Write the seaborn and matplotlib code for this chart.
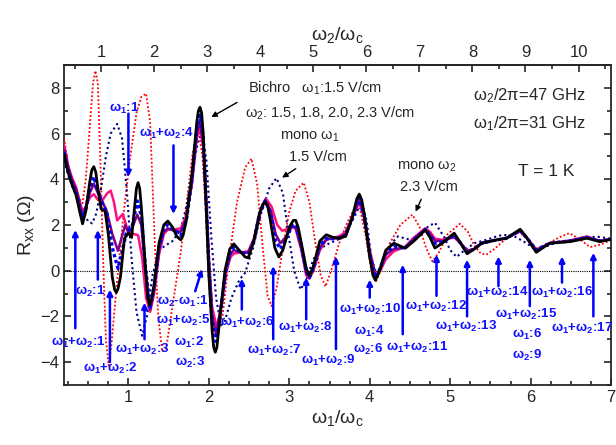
import numpy as np
import pandas as pd
import matplotlib
matplotlib.use("Agg")
import matplotlib.pyplot as plt
import seaborn as sns
from matplotlib.ticker import MultipleLocator, FixedLocator

# ── Data ────────────────────────────────────────────────────
ratio = 47.0 / 31.0   # omega2 / omega1

black_x = [0.20, 0.25, 0.30, 0.35, 0.40, 0.43, 0.47, 0.52, 0.545, 0.57, 0.595, 0.62, 0.66, 0.71, 0.75, 0.80,
           0.83, 0.85, 0.87, 0.90, 0.95, 1.00, 1.04, 1.08, 1.10, 1.12, 1.14, 1.16, 1.21, 1.24, 1.265, 1.29,
           1.32, 1.38, 1.44, 1.49, 1.55, 1.60, 1.65, 1.68, 1.72, 1.79, 1.85, 1.87, 1.89, 1.91, 1.93, 1.97,
           2.00, 2.04, 2.06, 2.08, 2.10, 2.13, 2.20, 2.26, 2.31, 2.40, 2.45, 2.49, 2.56, 2.63, 2.67, 2.70,
           2.73, 2.76, 2.82, 2.87, 2.92, 3.00, 3.05, 3.08, 3.11, 3.15, 3.21, 3.25, 3.30, 3.38, 3.46, 3.55,
           3.62, 3.70, 3.78, 3.84, 3.87, 3.90, 3.93, 4.00, 4.04, 4.07, 4.10, 4.13, 4.20, 4.30, 4.44, 4.55,
           4.69, 4.75, 4.81, 4.90, 5.05, 5.13, 5.21, 5.30, 5.39, 5.54, 5.70, 5.87, 5.95, 6.07, 6.15, 6.24,
           6.49, 6.70, 6.86, 7.00]
black_y = [5.1, 4.3, 3.75, 3.3, 2.5, 2.05, 2.6, 3.9, 4.4, 4.55, 4.3, 3.6, 2.7, 2.6, 1.6, -0.3,
           -0.85, -0.95, -0.8, -0.3, 1.4, 1.65, 1.45, 2.9, 3.6, 3.85, 3.6, 2.8, 0.2, -1.2, -1.5, -1.2,
           -0.6, 1.2, 2.0, 2.17, 1.9, 1.5, 1.35, 1.55, 2.2, 4.2, 6.5, 7.0, 7.15, 6.9, 6.0, 2.5,
           -0.2, -2.6, -3.35, -3.57, -3.35, -2.3, 0.0, 0.95, 1.17, 0.8, 0.6, 0.56, 1.3, 2.5, 2.9, 3.0,
           2.85, 2.3, 1.0, 0.6, 0.9, 1.9, 2.2, 2.2, 1.9, 1.2, 0.1, -0.22, 0.2, 1.3, 1.57, 1.45,
           1.42, 1.5, 2.3, 3.15, 3.35, 3.1, 2.5, 0.6, -0.2, -0.42, -0.2, 0.1, 0.9, 1.2, 0.98, 1.3,
           1.78, 1.45, 0.99, 1.2, 1.64, 1.2, 0.74, 0.95, 1.2, 1.32, 1.42, 1.81, 1.45, 0.8, 1.0, 1.2,
           1.27, 1.42, 1.27, 1.37]

blue_x = [0.20, 0.25, 0.30, 0.35, 0.40, 0.43, 0.47, 0.52, 0.57, 0.62, 0.68, 0.73, 0.80, 0.87, 0.92, 0.97,
          1.01, 1.05, 1.11, 1.16, 1.21, 1.27, 1.32, 1.38, 1.44, 1.49, 1.56, 1.65, 1.72, 1.79, 1.85, 1.89,
          1.93, 1.97, 2.00, 2.04, 2.09, 2.14, 2.21, 2.27, 2.31, 2.40, 2.49, 2.56, 2.63, 2.70, 2.77, 2.83,
          2.89, 2.95, 3.03, 3.08, 3.15, 3.21, 3.25, 3.30, 3.38, 3.46, 3.55, 3.62, 3.70, 3.78, 3.87, 3.93,
          4.00, 4.07, 4.13, 4.20, 4.30, 4.44, 4.55, 4.69, 4.75, 4.81, 4.90, 5.05, 5.13, 5.21, 5.30, 5.39,
          5.54, 5.70, 5.87, 5.95, 6.07, 6.15, 6.24, 6.49, 6.70, 6.86, 7.00]
blue_y = [5.2, 4.4, 3.85, 3.45, 2.7, 2.3, 2.7, 3.6, 4.1, 3.5, 2.9, 2.6, 1.0, 0.1, 0.8, 1.6,
          1.8, 2.0, 3.05, 2.4, 0.2, -1.6, -0.7, 1.0, 1.85, 2.0, 1.8, 1.55, 2.2, 4.0, 6.2, 6.8,
          5.8, 2.7, 0.2, -2.2, -3.1, -2.0, 0.0, 0.85, 1.0, 0.8, 0.7, 1.3, 2.5, 3.05, 2.5, 1.3,
          0.95, 1.3, 1.95, 2.0, 1.1, 0.0, -0.3, 0.1, 1.1, 1.4, 1.4, 1.42, 1.55, 2.3, 3.2, 2.4,
          0.7, -0.3, 0.1, 0.8, 1.05, 1.0, 1.35, 1.8, 1.55, 1.2, 1.25, 1.55, 1.2, 0.8, 0.95, 1.2,
          1.32, 1.42, 1.75, 1.45, 0.9, 1.05, 1.2, 1.3, 1.45, 1.3, 1.37]

purple_x = [0.20, 0.25, 0.30, 0.35, 0.40, 0.43, 0.47, 0.52, 0.57, 0.62, 0.68, 0.73, 0.80, 0.87, 0.92, 0.96,
            1.00, 1.05, 1.11, 1.16, 1.21, 1.27, 1.32, 1.38, 1.44, 1.49, 1.56, 1.65, 1.72, 1.79, 1.85, 1.89,
            1.93, 1.97, 2.00, 2.04, 2.09, 2.14, 2.21, 2.27, 2.31, 2.40, 2.49, 2.56, 2.63, 2.70, 2.77, 2.83,
            2.89, 2.95, 3.03, 3.08, 3.15, 3.21, 3.25, 3.30, 3.38, 3.46, 3.55, 3.62, 3.70, 3.78, 3.87, 3.93,
            4.00, 4.07, 4.13, 4.20, 4.30, 4.44, 4.55, 4.69, 4.75, 4.81, 4.90, 5.05, 5.13, 5.21, 5.30, 5.39,
            5.54, 5.70, 5.87, 5.95, 6.07, 6.15, 6.24, 6.49, 6.70, 6.86, 7.00]
purple_y = [5.3, 4.5, 3.95, 3.55, 2.8, 2.4, 2.75, 3.4, 3.8, 3.4, 3.0, 2.6, 1.6, 0.87, 1.5, 2.0,
            1.65, 1.9, 2.45, 2.0, 0.1, -1.7, -0.8, 0.9, 1.7, 1.85, 1.75, 1.7, 2.3, 3.9, 6.0, 6.5,
            5.6, 2.8, 0.4, -1.9, -2.8, -1.8, 0.0, 0.75, 0.9, 0.8, 0.78, 1.35, 2.5, 3.1, 2.6, 1.6,
            1.2, 1.45, 1.9, 1.9, 1.0, -0.1, -0.3, 0.1, 1.0, 1.38, 1.4, 1.45, 1.6, 2.3, 3.1, 2.4,
            0.8, -0.25, 0.05, 0.7, 0.95, 1.0, 1.4, 1.82, 1.6, 1.3, 1.3, 1.5, 1.2, 0.85, 0.95, 1.2,
            1.32, 1.42, 1.75, 1.45, 0.9, 1.05, 1.2, 1.3, 1.47, 1.3, 1.37]

pink_x = [0.20, 0.25, 0.30, 0.35, 0.40, 0.43, 0.47, 0.52, 0.57, 0.62, 0.68, 0.74, 0.78, 0.82, 0.86, 0.93,
          0.98, 1.02, 1.07, 1.12, 1.17, 1.22, 1.27, 1.32, 1.38, 1.44, 1.49, 1.56, 1.65, 1.72, 1.79, 1.85,
          1.89, 1.93, 1.97, 2.00, 2.04, 2.10, 2.15, 2.22, 2.27, 2.31, 2.40, 2.49, 2.56, 2.63, 2.71, 2.78,
          2.85, 2.91, 2.97, 3.04, 3.08, 3.15, 3.21, 3.25, 3.30, 3.38, 3.46, 3.55, 3.62, 3.70, 3.78, 3.87,
          3.93, 4.00, 4.07, 4.13, 4.20, 4.30, 4.44, 4.55, 4.69, 4.75, 4.81, 4.90, 5.05, 5.13, 5.21, 5.30,
          5.39, 5.54, 5.70, 5.87, 5.95, 6.07, 6.15, 6.24, 6.49, 6.70, 6.86, 7.00]
pink_y = [5.5, 4.6, 4.05, 3.65, 2.95, 2.6, 2.8, 3.2, 3.35, 3.1, 3.1, 3.4, 3.5, 3.0, 2.2, 2.48,
          1.9, 1.65, 1.6, 1.55, 0.6, -1.2, -1.8, -1.0, 0.7, 1.6, 1.8, 1.8, 1.85, 2.4, 3.8, 5.8,
          6.2, 5.4, 2.9, 0.6, -1.6, -2.5, -1.6, 0.0, 0.6, 0.75, 0.8, 0.85, 1.4, 2.5, 3.15, 2.8,
          2.0, 1.75, 1.8, 2.0, 1.8, 0.9, -0.2, -0.35, 0.0, 0.9, 1.35, 1.45, 1.5, 1.7, 2.3, 3.0,
          2.3, 0.9, -0.2, 0.0, 0.5, 0.85, 1.05, 1.45, 1.85, 1.7, 1.4, 1.35, 1.45, 1.2, 0.88, 0.95,
          1.2, 1.32, 1.42, 1.72, 1.45, 0.92, 1.05, 1.2, 1.32, 1.5, 1.3, 1.37]

mono2_x = [0.20, 0.25, 0.30, 0.35, 0.40, 0.43, 0.47, 0.52, 0.56, 0.59, 0.62, 0.65, 0.69, 0.72, 0.755, 0.79,
           0.85, 0.94, 1.02, 1.10, 1.16, 1.22, 1.27, 1.33, 1.37, 1.42, 1.47, 1.55, 1.65, 1.72, 1.80, 1.87,
           1.92, 1.98, 2.04, 2.10, 2.17, 2.25, 2.35, 2.45, 2.53, 2.60, 2.67, 2.73, 2.78, 2.84, 2.92, 3.00,
           3.08, 3.18, 3.25, 3.32, 3.39, 3.45, 3.52, 3.62, 3.72, 3.82, 3.88, 3.95, 4.02, 4.08, 4.15, 4.25,
           4.38, 4.53, 4.62, 4.70, 4.78, 4.86, 4.97, 5.12, 5.22, 5.30, 5.38, 5.45, 5.55, 5.70, 5.85, 5.95,
           6.08, 6.20, 6.35, 6.48, 6.60, 6.74, 6.88, 7.00]
mono2_y = [5.8, 4.7, 4.0, 3.5, 3.1, 2.95, 4.0, 6.3, 8.2, 8.75, 8.2, 5.0, 0.0, -3.0, -4.15, -3.2,
           -0.8, 2.5, 4.9, 6.9, 7.6, 7.75, 6.5, 1.0, -2.0, -3.55, -3.4, -1.5, 0.8, 2.8, 5.2, 6.2,
           5.0, 1.5, -1.5, -2.7, -2.0, 0.5, 3.0, 4.5, 4.9, 3.8, 1.0, -1.1, -1.55, -0.8, 1.0, 2.6,
           3.5, 3.85, 3.0, 1.3, -0.2, -0.7, 0.0, 1.2, 2.1, 2.8, 2.7, 1.5, 0.0, -0.45, 0.1, 1.2,
           2.0, 2.45, 1.9, 1.0, 0.4, 0.8, 1.6, 2.05, 1.7, 1.1, 0.75, 0.7, 0.95, 1.42, 1.72, 1.4,
           0.94, 1.15, 1.45, 1.64, 1.4, 1.03, 1.15, 1.35]

mono1_x = [0.20, 0.25, 0.30, 0.35, 0.40, 0.45, 0.50, 0.55, 0.60, 0.66, 0.72, 0.78, 0.86, 0.92, 0.98, 1.04,
           1.10, 1.17, 1.23, 1.30, 1.38, 1.46, 1.55, 1.65, 1.72, 1.80, 1.87, 1.92, 1.97, 2.03, 2.09, 2.15,
           2.20, 2.28, 2.38, 2.45, 2.55, 2.65, 2.75, 2.84, 2.92, 2.98, 3.06, 3.14, 3.21, 3.30, 3.40, 3.50,
           3.60, 3.70, 3.80, 3.90, 3.96, 4.02, 4.09, 4.16, 4.25, 4.35, 4.45, 4.55, 4.67, 4.81, 4.92, 5.00,
           5.08, 5.18, 5.30, 5.45, 5.58, 5.66, 5.80, 5.95, 6.05, 6.12, 6.25, 6.45, 6.65, 6.82, 7.00]
mono1_y = [4.8, 4.2, 3.7, 3.3, 2.9, 2.5, 2.15, 2.07, 2.5, 3.6, 5.0, 6.0, 6.42, 5.8, 3.5, 0.5,
           -1.8, -2.85, -2.0, -0.2, 0.9, 1.1, 1.3, 1.8, 2.8, 4.5, 5.7, 6.0, 4.8, 1.5, -1.2, -2.4,
           -2.2, -1.2, -0.4, -0.1, 1.0, 2.5, 3.6, 4.05, 3.4, 1.8, 0.0, -0.83, -0.4, 0.5, 1.0, 1.2,
           1.35, 1.6, 2.3, 3.0, 2.2, 0.6, -0.25, 0.3, 1.1, 1.5, 1.4, 1.3, 1.8, 2.1, 1.5, 0.9,
           0.6, 0.9, 1.2, 1.35, 1.5, 1.57, 1.5, 1.2, 0.95, 0.94, 1.15, 1.3, 1.42, 1.49, 1.4]

# resonance arrows: x, tail y, head y
arrow_x = [0.34, 0.62, 0.77, 1.00, 1.20, 1.56, 2.41, 2.80, 3.21, 3.58, 4.00, 4.41, 4.83, 5.21, 5.60, 5.99, 6.39, 6.78]
arrow_y0 = [-2.52, -0.39, -4.0, 6.87, -3.0, 5.48, -1.7, -3.0, -2.13, -3.43, -1.18, -2.78, -1.1, -2.0, -0.68, -1.55, -0.52, -2.0]
arrow_y1 = [1.78, 1.78, -0.83, 4.1, -1.4, 2.48, -0.35, 0.2, -0.3, 0.62, -0.39, 0.26, 0.7, 0.48, 0.62, 0.48, 0.62, 0.78]

res_labels = ["ω1+ω2:1", "ω2:1", "ω1+ω2:2", "ω1:1", "ω1+ω2:3", "ω1+ω2:4",
              "ω2-ω1:1", "ω1+ω2:5", "ω1:2", "ω2:3", "ω1+ω2:6", "ω1+ω2:7",
              "ω1+ω2:8", "ω1+ω2:9", "ω1+ω2:10", "ω1:4", "ω2:6", "ω1+ω2:11",
              "ω1+ω2:12", "ω1+ω2:13", "ω1+ω2:14", "ω1+ω2:15", "ω1:6", "ω2:9",
              "ω1+ω2:16", "ω1+ω2:17"]
res_lx = [0.38, 0.53, 0.78, 0.95, 1.17, 1.48, 1.67, 1.68, 1.76, 1.77, 2.48, 2.82, 3.20, 3.48, 4.00, 3.99,
          3.98, 4.59, 4.83, 5.20, 5.58, 5.94, 5.96, 5.96, 6.39, 6.64]
res_ly = [-3.13, -0.9, -4.3, 7.1, -3.43, 6.0, -1.35, -2.2, -3.13, -4.0, -2.27, -3.5, -2.48, -3.94, -1.7, -2.64,
          -3.43, -3.35, -1.57, -2.43, -0.96, -1.91, -2.78, -3.72, -0.94, -2.52]

top_ticks = [1, 2, 3, 4, 5, 6, 7, 8, 9, 10]


def sub_digits(s):
    # "ω1+ω2:3" -> "ω$_1$+ω$_2$:3" (only the omega indices are subscripts)
    return s.replace("ω1", "ω$_1$").replace("ω2", "ω$_2$")


# ── Style ────────────────────────────────────────────────────
sns.set_theme(style="ticks")
plt.rcParams['font.family'] = ['Liberation Sans', 'DejaVu Sans']
plt.rcParams['mathtext.fontset'] = 'custom'
plt.rcParams['mathtext.rm'] = 'Liberation Sans'
plt.rcParams['mathtext.it'] = 'Liberation Sans:italic'
plt.rcParams['mathtext.bf'] = 'Liberation Sans:bold'
plt.rcParams['mathtext.default'] = 'regular'

fig = plt.figure(figsize=(6.16, 4.45), dpi=100)
ax = fig.add_axes([0.104, 0.135, 0.888, 0.719])

ax.axhline(0, color='black', lw=0.8, ls=(0, (1, 1)), zorder=1)

curves = [
    (mono2_x, mono2_y, '#ff0000', (0, (1, 1.2)), 1.3),
    (mono1_x, mono1_y, '#000080', (0, (1, 1.5)), 1.5),
    (pink_x, pink_y, '#ff1080', '-', 1.8),
    (purple_x, purple_y, '#800080', '-', 1.8),
    (blue_x, blue_y, '#0000ff', (0, (1, 0.8)), 2.4),
    (black_x, black_y, '#000000', '-', 2.0),
]
for xs, ys, col, ls, lw in curves:
    df = pd.DataFrame({'x': xs, 'y': ys})
    sns.lineplot(data=df, x='x', y='y', ax=ax, color=col, lw=lw, ls=ls, sort=False,
                 estimator=None, zorder=3)

# resonance markers
blue_txt = '#1010ff'
for x, y0, y1 in zip(arrow_x, arrow_y0, arrow_y1):
    ax.annotate('', xy=(x, y1), xytext=(x, y0),
                arrowprops=dict(arrowstyle='-|>', color='#0000ff', lw=1.8,
                                mutation_scale=8, shrinkA=0, shrinkB=0), zorder=4)
ax.annotate('', xy=(1.915, 0.07), xytext=(1.83, -0.9),
            arrowprops=dict(arrowstyle='-|>', color='#0000ff', lw=1.8,
                            mutation_scale=8, shrinkA=0, shrinkB=0), zorder=4)
for txt, lx, ly in zip(res_labels, res_lx, res_ly):
    ax.text(lx, ly, sub_digits(txt), color=blue_txt, fontsize=9.5, fontweight='bold',
            ha='center', va='center', zorder=5)

# black annotations
ax.text(2.49, 7.96, "Bichro   ω$_1$:1.5 V/cm", fontsize=10.5, ha='left', va='center')
ax.text(2.45, 6.9, "ω$_2$: 1.5, 1.8, 2.0, 2.3 V/cm", fontsize=10.5, ha='left', va='center')
ax.annotate('', xy=(2.03, 6.72), xytext=(2.35, 7.36),
            arrowprops=dict(arrowstyle='-|>', color='black', lw=1.0, mutation_scale=8,
                            shrinkA=0, shrinkB=0))
ax.text(3.25, 5.84, "mono ω$_1$", fontsize=10.5, ha='center', va='center')
ax.text(3.35, 4.97, "1.5 V/cm", fontsize=10.5, ha='center', va='center')
ax.annotate('', xy=(2.91, 4.07), xytext=(3.08, 4.46),
            arrowprops=dict(arrowstyle='-|>', color='black', lw=1.0, mutation_scale=8,
                            shrinkA=0, shrinkB=0))
ax.text(4.71, 4.53, "mono ω$_2$", fontsize=10.5, ha='center', va='center')
ax.text(4.74, 3.67, "2.3 V/cm", fontsize=10.5, ha='center', va='center')
ax.annotate('', xy=(4.57, 2.58), xytext=(4.64, 3.12),
            arrowprops=dict(arrowstyle='-|>', color='black', lw=1.0, mutation_scale=8,
                            shrinkA=0, shrinkB=0))
ax.text(5.98, 7.65, "ω$_2$/2π=47 GHz", fontsize=12, ha='center', va='center')
ax.text(5.98, 6.42, "ω$_1$/2π=31 GHz", fontsize=12, ha='center', va='center')
ax.text(6.19, 4.32, "T = 1 K", fontsize=12.5, ha='center', va='center')

# ── Axes ─────────────────────────────────────────────────────
ax.set_xlim(0.2, 7.0)
ax.set_ylim(-5, 9)
ax.xaxis.set_major_locator(MultipleLocator(1))
ax.xaxis.set_minor_locator(MultipleLocator(0.25))
ax.yaxis.set_major_locator(MultipleLocator(2))
ax.yaxis.set_minor_locator(MultipleLocator(1))
ax.tick_params(which='both', direction='in', right=True, labelsize=12, width=1.2)
ax.tick_params(which='major', length=5)
ax.tick_params(which='minor', length=3)
ax.set_xlabel("ω$_1$/ω$_c$", fontsize=14, labelpad=2)
ax.set_ylabel("R$_{xx}$ (Ω)", fontsize=14, labelpad=2)
for sp in ax.spines.values():
    sp.set_linewidth(1.3)

top = ax.secondary_xaxis('top', functions=(lambda v: v * ratio, lambda v: v / ratio))
top.xaxis.set_major_locator(FixedLocator(top_ticks))
top.xaxis.set_minor_locator(FixedLocator([t + 0.5 for t in range(0, 11)]))
top.tick_params(which='both', direction='in', labelsize=12, width=1.2)
top.tick_params(which='major', length=5)
top.tick_params(which='minor', length=3)
top.set_xlabel("ω$_2$/ω$_c$", fontsize=14, labelpad=4)
top.spines['top'].set_linewidth(1.3)

fig.savefig("out.png", dpi=100)
